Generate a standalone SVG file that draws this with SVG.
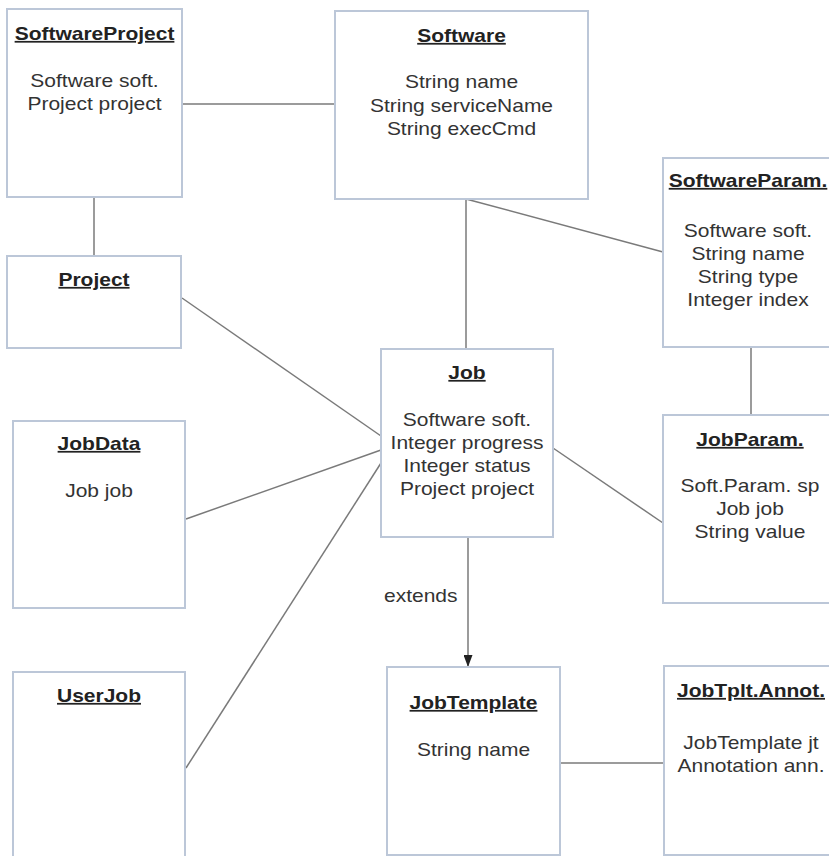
<svg xmlns="http://www.w3.org/2000/svg" width="829" height="856" viewBox="0 0 829 856">
  <style>
    .box { fill: #ffffff; stroke: #bcc7d8; stroke-width: 2; }
    .edge { fill: none; stroke: #7a7a7a; stroke-width: 1.5; }
    .title { font-family: "Liberation Sans", Arial, sans-serif; font-size: 17.5px; font-weight: bold; fill: #222222; text-anchor: middle; text-decoration: underline; }
    .attr { font-family: "Liberation Sans", Arial, sans-serif; font-size: 17.5px; fill: #333333; text-anchor: middle; }
    .label { font-family: "Liberation Sans", Arial, sans-serif; font-size: 17.5px; fill: #333333; }
  </style>
  <defs>
    <marker id="arrow" viewBox="0 0 12 9" refX="12" refY="4.5" markerWidth="12" markerHeight="9" markerUnits="userSpaceOnUse" orient="auto">
      <path d="M0,0 L12,4.5 L0,9 z" fill="#222222"/>
    </marker>
  </defs>
  <rect width="829" height="856" fill="#ffffff"/>

  <!-- connectors -->
  <g id="connectors">
    <line class="edge" x1="182" y1="104" x2="335" y2="104"/>
    <line class="edge" x1="94" y1="197" x2="94" y2="256"/>
    <line class="edge" x1="466" y1="199" x2="466" y2="349"/>
    <line class="edge" x1="466" y1="199" x2="663" y2="252"/>
    <line class="edge" x1="751" y1="347" x2="751" y2="415"/>
    <line class="edge" x1="182" y1="298" x2="381" y2="436"/>
    <line class="edge" x1="186" y1="519" x2="381" y2="450"/>
    <line class="edge" x1="186" y1="768" x2="381" y2="463"/>
    <line class="edge" x1="553" y1="448" x2="663" y2="523"/>
    <line class="edge" x1="560" y1="763" x2="664" y2="763"/>
    <line class="edge" x1="468" y1="537" x2="468" y2="667" marker-end="url(#arrow)"/>
    <g transform="translate(384,602) scale(1.2,1)"><text class="label" x="0" y="0">extends</text></g>
  </g>

  <!-- nodes -->
  <g id="SoftwareProject">
    <rect class="box" x="7" y="9" width="175" height="188"/>
    <g transform="translate(94.5,0) scale(1.2,1)">
      <text class="title" x="0" y="40">SoftwareProject</text>
      <text class="attr" x="0" y="87">Software soft.</text>
      <text class="attr" x="0" y="110">Project project</text>
    </g>
  </g>

  <g id="Software">
    <rect class="box" x="335" y="11" width="253" height="188"/>
    <g transform="translate(461.5,0) scale(1.2,1)">
      <text class="title" x="0" y="42">Software</text>
      <text class="attr" x="0" y="88">String name</text>
      <text class="attr" x="0" y="112">String serviceName</text>
      <text class="attr" x="0" y="135">String execCmd</text>
    </g>
  </g>

  <g id="SoftwareParam">
    <rect class="box" x="663" y="158" width="175" height="189"/>
    <g transform="translate(748,0) scale(1.2,1)">
      <text class="title" x="0" y="187">SoftwareParam.</text>
      <text class="attr" x="0" y="237">Software soft.</text>
      <text class="attr" x="0" y="260">String name</text>
      <text class="attr" x="0" y="283">String type</text>
      <text class="attr" x="0" y="306">Integer index</text>
    </g>
  </g>

  <g id="Project">
    <rect class="box" x="7" y="256" width="174" height="92"/>
    <g transform="translate(94,0) scale(1.2,1)">
      <text class="title" x="0" y="286">Project</text>
    </g>
  </g>

  <g id="Job">
    <rect class="box" x="381" y="349" width="172" height="188"/>
    <g transform="translate(467,0) scale(1.2,1)">
      <text class="title" x="0" y="379">Job</text>
      <text class="attr" x="0" y="426">Software soft.</text>
      <text class="attr" x="0" y="449">Integer progress</text>
      <text class="attr" x="0" y="472">Integer status</text>
      <text class="attr" x="0" y="495">Project project</text>
    </g>
  </g>

  <g id="JobParam">
    <rect class="box" x="663" y="415" width="175" height="188"/>
    <g transform="translate(750,0) scale(1.2,1)">
      <text class="title" x="0" y="446">JobParam.</text>
      <text class="attr" x="0" y="492">Soft.Param. sp</text>
      <text class="attr" x="0" y="515">Job job</text>
      <text class="attr" x="0" y="538">String value</text>
    </g>
  </g>

  <g id="JobData">
    <rect class="box" x="13" y="421" width="172" height="187"/>
    <g transform="translate(99,0) scale(1.2,1)">
      <text class="title" x="0" y="450">JobData</text>
      <text class="attr" x="0" y="497">Job job</text>
    </g>
  </g>

  <g id="UserJob">
    <rect class="box" x="13" y="672" width="172" height="190"/>
    <g transform="translate(99,0) scale(1.2,1)">
      <text class="title" x="0" y="702">UserJob</text>
    </g>
  </g>

  <g id="JobTemplate">
    <rect class="box" x="387" y="667" width="173" height="188"/>
    <g transform="translate(473.5,0) scale(1.2,1)">
      <text class="title" x="0" y="709">JobTemplate</text>
      <text class="attr" x="0" y="756">String name</text>
    </g>
  </g>

  <g id="JobTpltAnnot">
    <rect class="box" x="664" y="666" width="175" height="189"/>
    <g transform="translate(751,0) scale(1.2,1)">
      <text class="title" x="0" y="697">JobTplt.Annot.</text>
      <text class="attr" x="0" y="749">JobTemplate jt</text>
      <text class="attr" x="0" y="772">Annotation ann.</text>
    </g>
  </g>
</svg>
